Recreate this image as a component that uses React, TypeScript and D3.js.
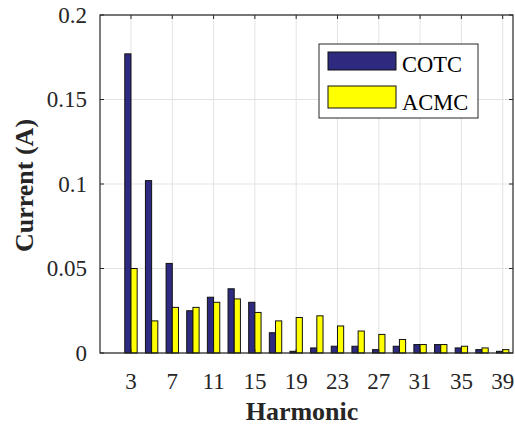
import React from 'react';
import * as d3 from 'd3';

// harmonic orders and measured harmonic currents (A)
const harmonics = [3, 5, 7, 9, 11, 13, 15, 17, 19, 21, 23, 25, 27, 29, 31, 33, 35, 37, 39];
const cotc = [0.177, 0.102, 0.053, 0.025, 0.033, 0.038, 0.030, 0.012, 0.001, 0.003, 0.004, 0.004, 0.002, 0.004, 0.005, 0.005, 0.003, 0.002, 0.001];
const acmc = [0.050, 0.019, 0.027, 0.027, 0.030, 0.032, 0.024, 0.019, 0.021, 0.022, 0.016, 0.013, 0.011, 0.008, 0.005, 0.005, 0.004, 0.003, 0.002];
const xTicks = [3, 7, 11, 15, 19, 23, 27, 31, 35, 39];
const yTicks = [0, 0.05, 0.1, 0.15, 0.2];
const seriesNames = ['COTC', 'ACMC'];
const seriesColors = ['#2e2a7f', '#ffff00'];

const W = 515;
const H = 425;
const left = 100, right = 513, top = 15, bottom = 353;
const font = '"Liberation Serif", "Times New Roman", serif';
const axisColor = '#262626';

export default function App() {
  const x = d3.scaleLinear().domain([0, 40]).range([left, right]);
  const y = d3.scaleLinear().domain([0, 0.2]).range([bottom, top]);
  const barW = 0.6; // in harmonic units
  const series = [cotc, acmc];

  return (
    <svg width={W} height={H} style={{ position: 'absolute', left: 0, top: 0 }}>
      <rect x={0} y={0} width={W} height={H} fill="#fff" />
      {/* grid */}
      <g stroke="#e3e3e3" strokeWidth={1}>
        {xTicks.map(t => (
          <line key={'gx' + t} x1={x(t)} x2={x(t)} y1={top} y2={bottom} />
        ))}
        {yTicks.map(t => (
          <line key={'gy' + t} x1={left} x2={right} y1={y(t)} y2={y(t)} />
        ))}
      </g>
      {/* bars */}
      {series.map((vals, s) => (
        <g key={'s' + s} fill={seriesColors[s]} stroke="#111" strokeWidth={1}>
          {vals.map((v, i) => {
            const h = harmonics[i];
            const x0 = x(h - barW + s * barW);
            const x1 = x(h + s * barW);
            return (
              <rect key={i} x={x0} y={y(v)} width={x1 - x0} height={y(0) - y(v)} />
            );
          })}
        </g>
      ))}
      {/* axes box */}
      <rect x={left} y={top} width={right - left} height={bottom - top}
        fill="none" stroke={axisColor} strokeWidth={1.2} />
      <g stroke={axisColor} strokeWidth={1}>
        {xTicks.map(t => (
          <g key={'tx' + t}>
            <line x1={x(t)} x2={x(t)} y1={bottom} y2={bottom - 4} />
            <line x1={x(t)} x2={x(t)} y1={top} y2={top + 4} />
          </g>
        ))}
        {yTicks.map(t => (
          <g key={'ty' + t}>
            <line x1={left} x2={left + 4} y1={y(t)} y2={y(t)} />
            <line x1={right} x2={right - 4} y1={y(t)} y2={y(t)} />
          </g>
        ))}
      </g>
      {/* tick labels */}
      <g fontFamily={font} fontSize={23} fill="#262626">
        {xTicks.map(t => (
          <text key={'lx' + t} x={x(t)} y={389} textAnchor="middle">{t}</text>
        ))}
        {yTicks.map(t => (
          <text key={'ly' + t} x={87} y={y(t) + 7.5} textAnchor="end">{String(t)}</text>
        ))}
      </g>
      {/* axis titles */}
      <text x={302} y={420} textAnchor="middle" fontFamily={font}
        fontSize={26} fontWeight="bold" fill="#262626">Harmonic</text>
      <text transform={`translate(33,185.5) rotate(-90)`} textAnchor="middle"
        fontFamily={font} fontSize={26} fontWeight="bold" fill="#262626">Current (A)</text>
      {/* legend */}
      <g>
        <rect x={319} y={44} width={159} height={74} fill="#fff" stroke={axisColor} strokeWidth={1} />
        {seriesNames.map((n, i) => (
          <g key={n}>
            <rect x={328} y={52 + i * 34} width={68} height={18 + i * 4}
              fill={seriesColors[i]} stroke="#111" strokeWidth={1} />
            <text x={402} y={71.5 + i * 38} fontFamily={font} fontSize={22.5} fill="#000">{n}</text>
          </g>
        ))}
      </g>
    </svg>
  );
}
